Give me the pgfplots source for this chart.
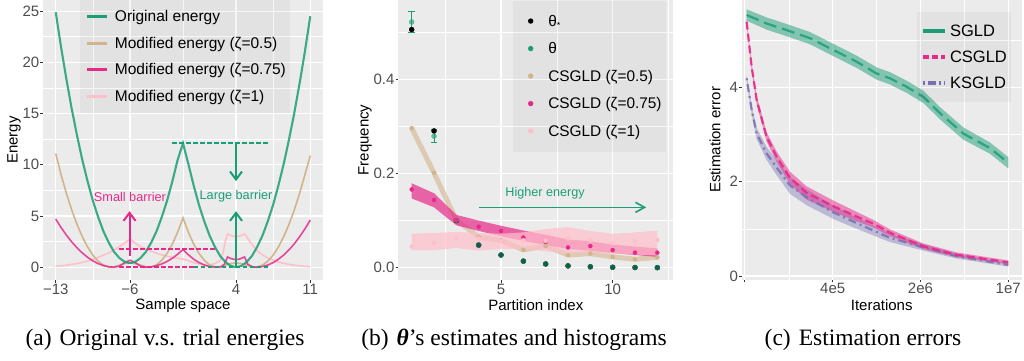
\documentclass[border=0pt]{standalone}
\usepackage{fontspec}
\setmainfont{Liberation Sans}
\newfontfamily\capfont{Liberation Serif}
\usepackage{pgfplots}
\pgfplotsset{compat=1.18}
\usepackage{pgfplotstable}
\usetikzlibrary{arrows.meta}

\definecolor{ggreen}{HTML}{1B9E77}
\definecolor{gmag}{HTML}{E7298A}
\definecolor{gpur}{HTML}{7570B3}
\definecolor{gtan}{HTML}{D2B48C}
\definecolor{gpink}{HTML}{FFC0CB}
\definecolor{ggbg}{HTML}{EBEBEB}
\definecolor{gtick}{HTML}{4D4D4D}
\definecolor{gtickline}{HTML}{333333}

\newcommand{\keyA}[1]{\addlegendimage{legend image code/.code={\path[draw=none,fill=none] (0pt,-1pt) rectangle (31pt,1pt); \draw[#1, line width=3pt, opacity=1] (3pt,0pt) -- (23pt,0pt);}}}
\newcommand{\keyB}[1]{\addlegendimage{legend image code/.code={\path[draw=none,fill=none] (0pt,-1pt) rectangle (31.3pt,1pt); \fill[#1, fill opacity=1, draw=none] (13.7pt,0pt) circle (2.7pt);}}}
\newcommand{\keyC}[1]{\addlegendimage{legend image code/.code={\path[draw=none,fill=none] (0pt,-1pt) rectangle (29.3pt,1pt); \draw[#1, line width=4pt, opacity=1] (2.3pt,0pt) -- (24.3pt,0pt);}}}

% ---------- panel (a) data ----------
\pgfplotstableread{
x y
-13 24.9
-12.5 21.5
-12 18.4
-11.5 15.5
-11 12.9
-10.5 10.5
-10 8.4
-9.5 6.5
-9 4.9
-8.5 3.5
-8 2.4
-7.5 1.5
-7 0.9
-6.5 0.53
-6 0.4
-5.5 0.53
-5 0.9
-4.5 1.5
-4 2.4
-3.5 3.5
-3 4.9
-2.5 6.5
-2 8.4
-1.5 10.5
-1 12.1
-0.5 10.1
0 8.0
0.5 6.1
1 4.5
1.5 3.1
2 2.0
2.5 1.1
3 0.5
3.5 0.13
4 0.0
4.5 0.13
5 0.5
5.5 1.1
6 2.0
6.5 3.1
7 4.5
7.5 6.1
8 8.0
8.5 10.1
9 12.5
9.5 15.1
10 18.0
10.5 21.1
11 24.5
}\greenA
\pgfplotstableread{
x y
-13 11.1
-12.5 9.06
-12 7.23
-11.5 5.61
-11 4.20
-10.5 2.99
-10 1.98
-9.5 1.18
-9 0.59
-8.5 0.20
-8 0.03
-7.6 0.02
-7 0.2
-6.5 0.35
-6 0.42
-5.5 0.35
-5 0.2
-4.4 0.02
-4 0.03
-3.5 0.23
-3 0.68
-2.5 1.36
-2 2.27
-1.5 3.43
-1 4.81
-0.5 3.43
0 2.27
0.5 1.36
1 0.68
1.5 0.23
2 0.03
2.4 0.02
3 0.2
3.5 0.35
4 0.42
4.5 0.35
5 0.2
5.6 0.02
6 0.03
6.5 0.20
7 0.59
7.5 1.18
8 1.98
8.5 2.99
9 4.20
9.5 5.61
10 7.23
10.5 9.06
11 10.9
}\tanA
\pgfplotstableread{
x y
-13 4.7
-12.5 3.88
-12 3.14
-11.5 2.48
-11 1.90
-10.5 1.40
-10 0.97
-9.5 0.62
-9 0.35
-8.5 0.155
-8 0.04
-7.5 0.0
-7 0.1
-6.5 0.45
-6 0.68
-5.5 0.45
-5 0.1
-4.5 0.0
-4 0.035
-3.5 0.14
-3 0.32
-2.5 0.56
-2 0.88
-1.5 1.27
-1 1.73
-0.5 1.22
0 0.79
0.5 0.46
1 0.22
1.5 0.065
2.1 0.0
2.6 0.05
2.9 0.3
3.2 1.0
3.5 0.85
3.9 0.75
4.3 0.78
4.8 1.0
5.1 0.3
5.5 0.05
5.9 0.0
6.5 0.064
7 0.21
7.5 0.45
8 0.78
8.5 1.20
9 1.70
9.5 2.29
10 2.98
10.5 3.75
11 4.60
}\magA
\pgfplotstableread{
x y
-13 0.08
-12 0.2
-11 0.35
-10 0.6
-9 0.95
-8 1.4
-7 2.0
-6.5 2.35
-6 2.75
-5.5 2.35
-5 2.0
-4 1.55
-3 1.2
-2 0.95
-1 0.8
0 0.45
0.5 0.32
1 0.25
1.5 0.22
2 0.35
2.5 0.65
2.8 1.5
3.0 2.6
3.2 3.25
3.6 3.05
4.0 3.0
4.4 3.05
4.8 3.25
5.0 3.0
5.3 2.5
5.6 2.1
6 1.6
6.5 1.2
7 0.9
8 0.5
9 0.27
10 0.13
11 0.05
}\pinkA

% ---------- panel (b) data ----------
\pgfplotstableread{
x y
1 0.505
2 0.290
3 0.100
4 0.048
5 0.027
6 0.014
7 0.008
8 0.004
9 0.002
10 0.001
11 0.0005
12 0.0002
}\thetastar
\pgfplotstableread{
x y
1 0.521
2 0.279
3 0.100
4 0.048
5 0.027
6 0.014
7 0.008
8 0.004
9 0.002
10 0.001
11 0.0005
12 0.0002
}\thetaest
\pgfplotstableread{
x y
1 0.296
2 0.201
3 0.101
4 0.065
5 0.058
6 0.038
7 0.046
8 0.027
9 0.030
10 0.023
11 0.018
12 0.022
}\tanB
\pgfplotstableread{
x y
1 0.166
2 0.1435
3 0.101
4 0.087
5 0.078
6 0.064
7 0.055
8 0.043
9 0.046
10 0.0375
11 0.032
12 0.032
}\magB
\pgfplotstableread{
x y
1 0.179
2 0.158
3 0.112
4 0.100
5 0.089
6 0.079
7 0.070
8 0.060
9 0.056
10 0.049
11 0.045
12 0.041
12 0.023
11 0.027
10 0.031
9 0.036
8 0.040
7 0.048
6 0.057
5 0.067
4 0.078
3 0.090
2 0.128
1 0.147
}\magBand
\pgfplotstableread{
x y
1 0.045
2 0.052
3 0.064
4 0.062
5 0.057
6 0.058
7 0.057
8 0.062
9 0.058
10 0.052
11 0.056
12 0.059
}\pinkB
\pgfplotstableread{
x y
1 0.072
2 0.074
3 0.076
4 0.074
5 0.072
6 0.075
7 0.082
8 0.086
9 0.078
10 0.072
11 0.075
12 0.079
12 0.026
11 0.028
10 0.030
9 0.031
8 0.030
7 0.035
6 0.040
5 0.040
4 0.036
3 0.042
2 0.037
1 0.037
}\pinkBand

% ---------- panel (c) data ----------
\pgfplotstableread{
x y
8.26e4 5.53
1.19e5 5.35
1.72e5 5.21
2.64e5 5.04
4.04e5 4.79
6.21e5 4.54
8.96e5 4.29
1.14e6 4.19
1.55e6 4.01
2.10e6 3.80
2.86e6 3.45
4.38e6 3.02
7.15e6 2.71
1.00e7 2.40
}\sgld
\pgfplotstableread{
x y
8.26e4 5.65
1.19e5 5.48
1.72e5 5.34
2.64e5 5.17
4.04e5 4.92
6.21e5 4.67
8.96e5 4.42
1.14e6 4.32
1.55e6 4.14
2.10e6 3.93
2.86e6 3.58
4.38e6 3.15
7.15e6 2.83
1.00e7 2.52
1.00e7 2.28
7.15e6 2.59
4.38e6 2.89
2.86e6 3.32
2.10e6 3.67
1.55e6 3.88
1.14e6 4.06
8.96e5 4.16
6.21e5 4.41
4.04e5 4.66
2.64e5 4.91
1.72e5 5.08
1.19e5 5.22
8.26e4 5.41
}\sgldBand
\pgfplotstableread{
x y
8.26e4 5.39
9.06e4 4.43
9.93e4 3.73
1.19e5 2.95
1.43e5 2.53
1.83e5 2.08
2.48e5 1.76
4.04e5 1.48
6.21e5 1.26
8.42e5 1.11
1.14e6 0.92
2.10e6 0.63
3.88e6 0.45
1.00e7 0.29
}\csgld
\pgfplotstableread{
x y
8.26e4 5.45
9.06e4 4.51
9.93e4 3.82
1.19e5 3.05
1.43e5 2.64
1.83e5 2.21
2.48e5 1.90
4.04e5 1.60
6.21e5 1.36
8.42e5 1.19
1.14e6 0.99
2.10e6 0.69
3.88e6 0.50
1.00e7 0.33
1.00e7 0.25
3.88e6 0.40
2.10e6 0.57
1.14e6 0.85
8.42e5 1.03
6.21e5 1.16
4.04e5 1.36
2.48e5 1.62
1.83e5 1.95
1.43e5 2.42
1.19e5 2.85
9.93e4 3.64
9.06e4 4.35
8.26e4 5.33
}\csgldBand
\pgfplotstableread{
x y
8.26e4 4.19
9.06e4 3.52
9.93e4 3.02
1.19e5 2.60
1.43e5 2.30
1.83e5 1.92
2.48e5 1.67
4.04e5 1.35
6.21e5 1.12
1.14e6 0.81
2.10e6 0.61
3.88e6 0.42
1.00e7 0.235
}\ksgld
\pgfplotstableread{
x y
8.26e4 4.26
9.06e4 3.62
9.93e4 3.14
1.19e5 2.74
1.43e5 2.46
1.83e5 2.10
2.48e5 1.84
4.04e5 1.49
6.21e5 1.24
1.14e6 0.90
2.10e6 0.68
3.88e6 0.47
1.00e7 0.27
1.00e7 0.20
3.88e6 0.37
2.10e6 0.54
1.14e6 0.72
6.21e5 1.00
4.04e5 1.21
2.48e5 1.50
1.83e5 1.74
1.43e5 2.14
1.19e5 2.46
9.93e4 2.90
9.06e4 3.42
8.26e4 4.12
}\ksgldBand

\pgfplotsset{
  ggtheme/.style={
    scale only axis,
    axis background/.style={fill=ggbg},
    axis line style={draw=none},
    grid=both,
    major grid style={white, line width=1.1pt},
    minor grid style={white, line width=0.55pt},
    tick align=outside,
    tick pos=left,
    major tick length=2.6pt,
    minor tick length=0pt,
    tick style={gtickline, line width=0.9pt},
    tick label style={font=\fontsize{15}{18}\selectfont, text=gtick},
    xticklabel style={inner ysep=1pt},
    yticklabel style={inner xsep=1pt},
    label style={font=\fontsize{15}{18}\selectfont, text=black},
    /pgf/number format/assume math mode=true,
    legend cell align=left,
  },
}

\begin{document}
\begin{tikzpicture}
\path[use as bounding box] (0pt,0pt) rectangle (1024pt,360pt);

% ================= panel (a) =================
\begin{axis}[ggtheme,
  at={(43pt,80pt)}, anchor=south west, width=280pt, height=280pt,
  xmin=-14.2, xmax=12.2, ymin=-1.25, ymax=26.09,
  xtick={-13,-6,4,11}, xticklabels={−13,−6,4,11},
  minor xtick={-9.5,-1,7.5},
  ytick={0,5,10,15,20,25}, yticklabels={0,5,10,15,20,25},
  minor ytick={2.5,7.5,12.5,17.5,22.5},
  xlabel={Sample space}, ylabel={Energy},
  xlabel style={at={([yshift=-26pt]axis description cs:0.5,0)}, anchor=center},
  ylabel style={at={([xshift=-29pt]axis description cs:0,0.5)}, anchor=center},
  legend style={at={(axis description cs:0.132,1)}, anchor=north west, draw=none,
    fill=black, fill opacity=0.035, text opacity=1, inner xsep=4pt, inner ysep=9.5pt,
    outer sep=0pt, row sep=12.7pt, column sep=0pt,
    font=\fontsize{15.5}{18}\selectfont,
    nodes={inner sep=0pt, text height=12pt, text depth=2pt}},
]
\addplot[gpink, line width=1.6pt, forget plot] table {\pinkA};
\addplot[gtan, line width=1.6pt, forget plot] table {\tanA};
\addplot[gmag, line width=1.6pt, opacity=0.85, forget plot] table {\magA};
\addplot[ggreen, line width=2.1pt, opacity=0.85, forget plot] table {\greenA};
% annotations
\addplot[gmag, line width=2pt, dash pattern=on 4.5pt off 2.5pt, forget plot] coordinates {(-7,0) (0,0)};
\addplot[ggreen, line width=2pt, dash pattern=on 4.5pt off 2.5pt, forget plot] coordinates {(0,0) (7,0)};
\addplot[gmag, line width=2pt, dash pattern=on 4.5pt off 2.5pt, forget plot] coordinates {(-7,1.8) (2.1,1.8)};
\addplot[ggreen, line width=2pt, dash pattern=on 4.5pt off 2.5pt, forget plot] coordinates {(-2,12.15) (7,12.15)};
\addplot[ggreen, line width=2pt, -{Straight Barb[length=8pt,width=12pt]}, forget plot] coordinates {(4,12.15) (4,8.4)};
\addplot[ggreen, line width=2pt, -{Straight Barb[length=8pt,width=12pt]}, forget plot] coordinates {(4,0) (4,5.47)};
\addplot[gmag, line width=2pt, -{Straight Barb[length=8pt,width=12pt]}, forget plot] coordinates {(-6.04,1.07) (-6.04,5.47)};
\node[gmag, font=\fontsize{12.7}{14}\selectfont] at (axis cs:-6,6.9) {Small barrier};
\node[ggreen, font=\fontsize{12.7}{14}\selectfont] at (axis cs:4,6.9) {Large barrier};
\keyA{ggreen}\addlegendentry{Original energy}
\keyA{gtan}\addlegendentry{Modified energy (ζ=0.5)}
\keyA{gmag}\addlegendentry{Modified energy (ζ=0.75)}
\keyA{gpink}\addlegendentry{Modified energy (ζ=1)}
\end{axis}

% ================= panel (b) =================
\begin{axis}[ggtheme,
  at={(398.3pt,80pt)}, anchor=south west, width=275pt, height=280pt,
  xmin=0.40, xmax=12.715, ymin=-0.026, ymax=0.5676,
  xtick={5,10}, xticklabels={5,10},
  minor xtick={2.5,7.5,12.5},
  ytick={0,0.2,0.4}, yticklabels={0.0,0.2,0.4},
  minor ytick={0.1,0.3,0.5},
  xlabel={Partition index}, ylabel={Frequency},
  xlabel style={at={([yshift=-25pt]axis description cs:0.5,0)}, anchor=center},
  ylabel style={at={([xshift=-33.3pt]axis description cs:0,0.5)}, anchor=center},
  legend style={at={(axis description cs:0.417,0.998)}, anchor=north west, draw=none,
    fill=black, fill opacity=0.035, text opacity=1, inner xsep=4pt, inner ysep=13.5pt,
    outer sep=0pt, row sep=13.5pt, column sep=0pt,
    font=\fontsize{15.4}{18}\selectfont,
    nodes={inner sep=0pt, text height=12pt, text depth=2pt}},
]
\addplot[only marks, mark=*, mark size=2.5pt, black, forget plot] table {\thetastar};
% error bars of theta estimates
\addplot[ggreen, line width=1pt, forget plot] coordinates {(1,0.499) (1,0.543)};
\addplot[ggreen, line width=1pt, forget plot] coordinates {(0.85,0.543) (1.15,0.543)};
\addplot[ggreen, line width=1pt, forget plot] coordinates {(0.85,0.499) (1.15,0.499)};
\addplot[ggreen, line width=1pt, forget plot] coordinates {(2,0.265) (2,0.293)};
\addplot[ggreen, line width=1pt, forget plot] coordinates {(1.85,0.293) (2.15,0.293)};
\addplot[ggreen, line width=1pt, forget plot] coordinates {(1.85,0.265) (2.15,0.265)};
\addplot[only marks, mark=*, mark size=2.5pt, ggreen, opacity=0.6, forget plot] table {\thetaest};
% bands
\addplot[gtan, line width=5pt, opacity=0.6, line join=round, forget plot] table {\tanB};
\addplot[fill=gmag, fill opacity=0.7, draw=none, forget plot] table {\magBand};
\addplot[fill=gpink, fill opacity=0.7, draw=none, forget plot] table {\pinkBand};
% points
\addplot[only marks, mark=*, mark size=2pt, gtan, forget plot] table {\tanB};
\addplot[only marks, mark=*, mark size=2pt, gmag, forget plot] table {\magB};
\addplot[only marks, mark=*, mark size=2pt, gpink, forget plot] table {\pinkB};
% annotation
\addplot[ggreen, line width=1.6pt, -{Straight Barb[length=9pt,width=10pt]}, forget plot] coordinates {(4.03,0.128) (11.5,0.128)};
\node[ggreen, font=\fontsize{12.6}{14}\selectfont] at (axis cs:6.97,0.158) {Higher energy};
\keyB{black}\addlegendentry{θ\raisebox{-2pt}{\fontsize{9}{9}\selectfont *}}
\keyB{ggreen}\addlegendentry{θ}
\keyB{gtan}\addlegendentry{CSGLD (ζ=0.5)}
\keyB{gmag}\addlegendentry{CSGLD (ζ=0.75)}
\keyB{gpink}\addlegendentry{CSGLD (ζ=1)}
\end{axis}

% ================= panel (c) =================
\begin{axis}[ggtheme,
  at={(741.7pt,80.5pt)}, anchor=south west, width=280pt, height=279.5pt,
  xmode=log, xmin=7.55e4, xmax=1.28e7, ymin=-0.074, ymax=5.848,
  xtick={8e4,4e5,2e6,1e7}, xticklabels={,4e5,2e6,1e7},
  minor xtick={1.79e5,8.94e5,4.47e6},
  ytick={0,2,4}, yticklabels={0,2,4},
  minor ytick={1,3,5},
  xlabel={Iterations}, ylabel={Estimation error},
  xlabel style={at={([yshift=-25.5pt]axis description cs:0.5,0)}, anchor=center},
  ylabel style={at={([xshift=-26.7pt]axis description cs:0,0.5)}, anchor=center},
  legend style={at={(axis description cs:0.625,0.957)}, anchor=north west, draw=none,
    fill=black, fill opacity=0.035, text opacity=1, inner xsep=4pt, inner ysep=11.2pt,
    outer sep=0pt, row sep=11.3pt, column sep=0pt,
    font=\fontsize{16.5}{19}\selectfont,
    nodes={inner sep=0pt, text height=13pt, text depth=2pt}},
]
\addplot[fill=gpur, fill opacity=0.4, draw=none, forget plot] table {\ksgldBand};
\addplot[fill=gmag, fill opacity=0.5, draw=none, forget plot] table {\csgldBand};
\addplot[fill=ggreen, fill opacity=0.5, draw=none, forget plot] table {\sgldBand};
\addplot[gpur, line width=2.2pt, opacity=0.85, dash pattern=on 2pt off 4pt on 8pt off 4pt, forget plot] table {\ksgld};
\addplot[gmag, line width=2.2pt, opacity=0.9, dash pattern=on 8pt off 4pt, forget plot] table {\csgld};
\addplot[ggreen, line width=2.2pt, opacity=0.85, dash pattern=on 13pt off 6pt, forget plot] table {\sgld};
\keyC{ggreen}\addlegendentry{SGLD}
\keyC{gmag, dash pattern=on 6pt off 3pt}\addlegendentry{CSGLD}
\keyC{gpur, dash pattern=on 2pt off 3pt on 8pt off 3pt}\addlegendentry{KSGLD}
\end{axis}

% ================= captions =================
\node[anchor=base, font=\capfont\fontsize{23.5}{26}\selectfont] at (165pt,15pt) {(a)\hspace{8pt}Original v.s. trial energies};
\node[anchor=base, font=\capfont\fontsize{23.5}{26}\selectfont] at (514pt,15pt) {(b)\hspace{8pt}{\bfseries\itshape θ}’s estimates and histograms};
\node[anchor=base, font=\capfont\fontsize{23.5}{26}\selectfont] at (863pt,15pt) {(c)\hspace{8pt}Estimation errors};
\end{tikzpicture}
\end{document}
